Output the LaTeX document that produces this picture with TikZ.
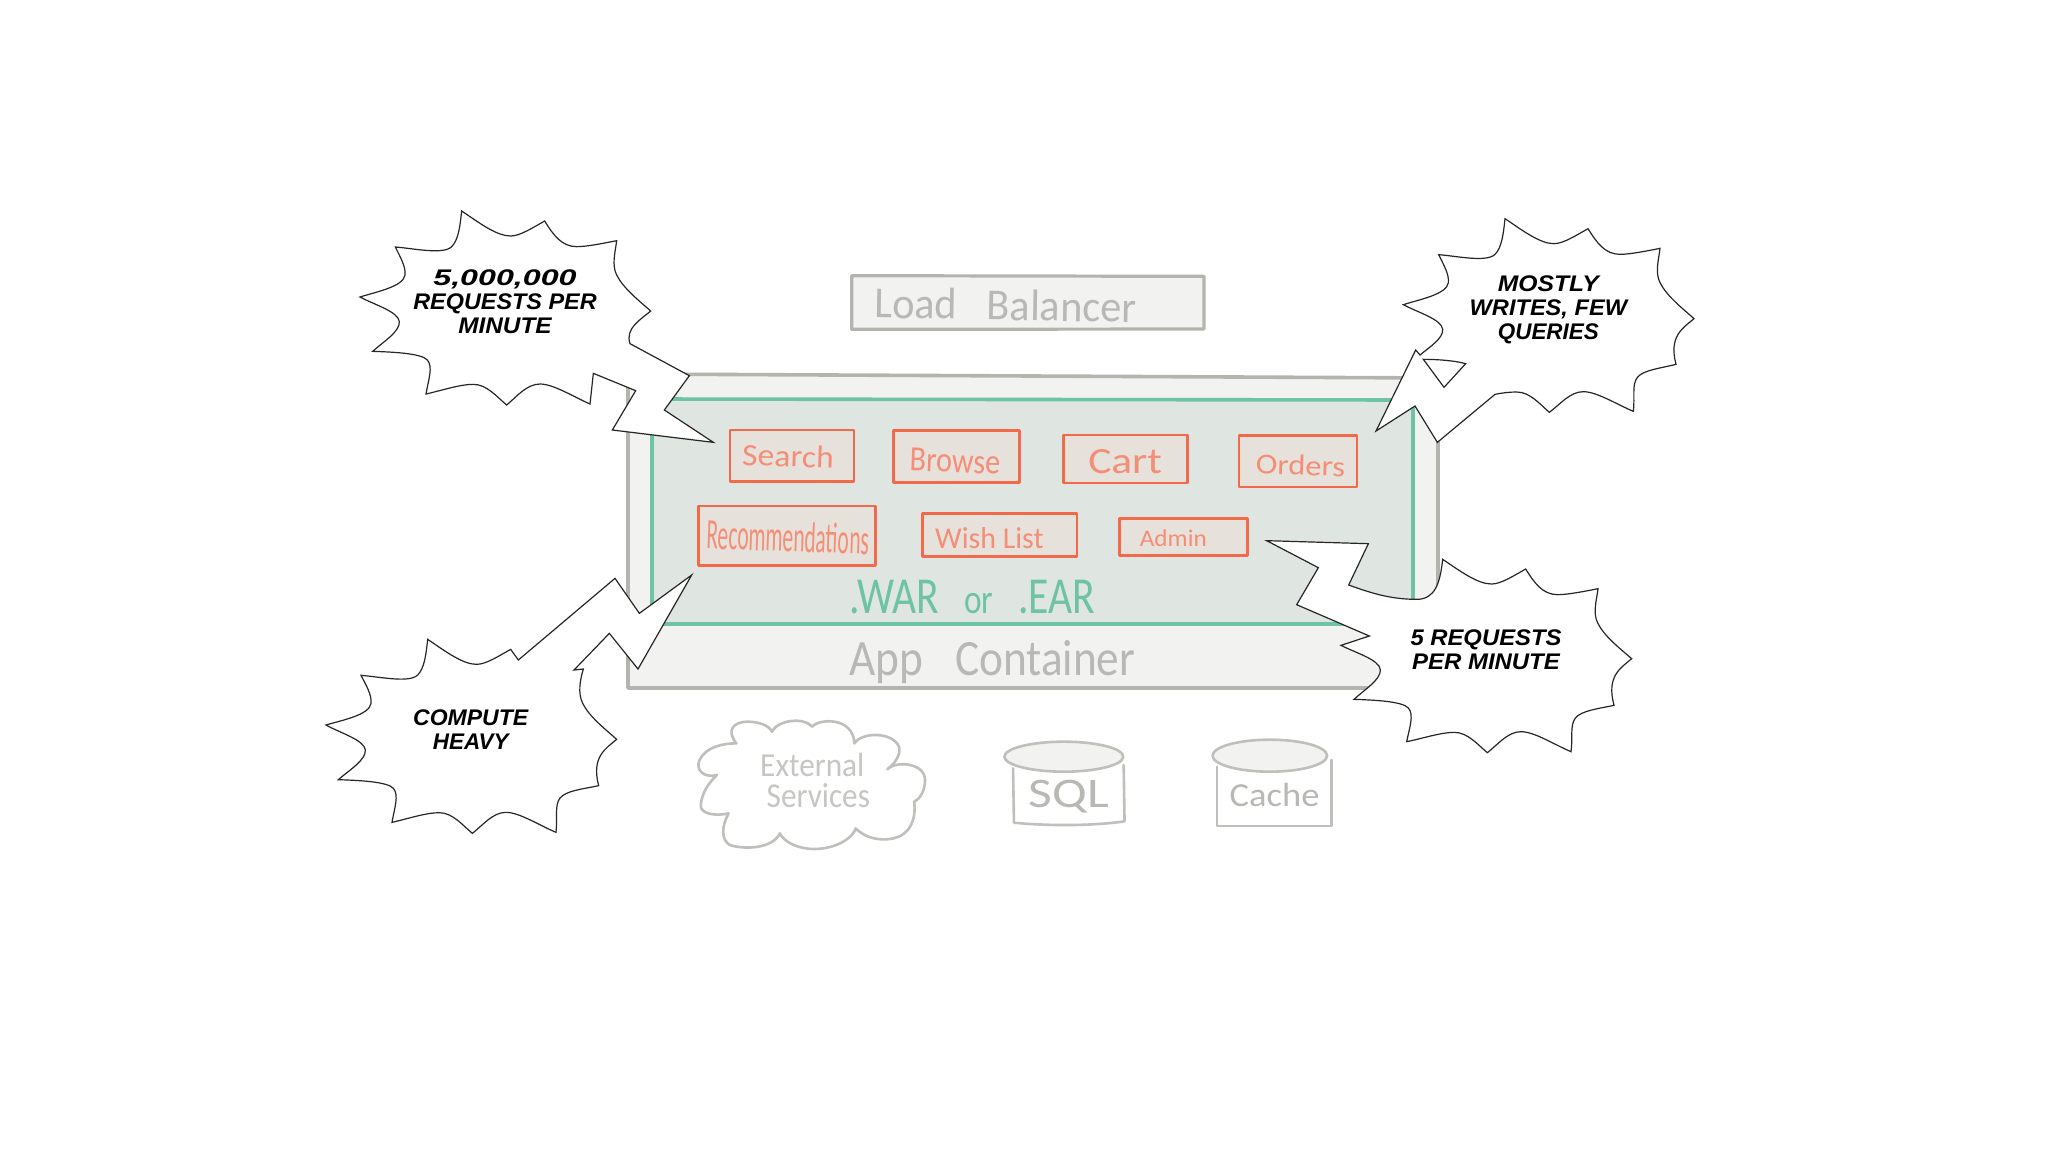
\documentclass[tikz,border=0pt]{standalone}
\usepackage{fontspec}
\setmainfont{Carlito}
\newfontfamily\comicfont{Liberation Sans}
\newcommand{\hx}{0.166667}
\newcommand{\hand}[3]{\resizebox{\hx\dimexpr#1pt\relax}{\dimexpr#2pt/6\relax}{#3}}
% one line of a shout, stretched to a width given in third-of-a-pixel units, height kept
\newsavebox{\linebox}
\newcommand{\fit}[2]{\sbox{\linebox}{#2}\resizebox*{\dimexpr#1pt/6\relax}{\dimexpr\ht\linebox+\dp\linebox\relax}{\usebox{\linebox}}}
\definecolor{frame}{HTML}{B4B4AF}
\definecolor{panel}{HTML}{F2F2F0}
\definecolor{sage}{HTML}{DFE6E1}
\definecolor{mint}{HTML}{6FC3A5}
\definecolor{coral}{HTML}{F3694A}
\definecolor{corald}{HTML}{F58E76}
\definecolor{blush}{HTML}{E6E1DA}
\definecolor{inkgrey}{HTML}{B8B8B4}
\tikzset{
  zoomed/.style={x=0.166667pt,y=-0.166667pt},
  framebox/.style={draw=frame,fill=panel,line width=1.8pt,line join=round},
  greenbox/.style={draw=mint,fill=sage,line width=1.8pt,line join=round},
  svc/.style={draw=coral,fill=blush,line width=1.25pt,line join=round},
  svctext/.style={text=corald,inner sep=0pt},
  greytext/.style={text=inkgrey,inner sep=0pt},
  mint text/.style={text=mint,inner sep=0pt},
  sketch/.style={draw=frame!85,line width=1.3pt,line join=round,line cap=round},
  burst/.style={draw=black!85,fill=white,line width=0.6pt,line join=miter,miter limit=10},
  shout/.style={text=black,align=center,inner sep=0pt,font=\comicfont\bfseries\itshape\fontsize{11.3}{12}\selectfont}
}
\begin{document}
\begin{tikzpicture}[x=0.5pt,y=-0.5pt]
\useasboundingbox (0,0) rectangle (2048,1152);
\fill[white] (0,0) rectangle (2048,1152);

% load balancer
\begin{scope}[shift={(840,260)},zoomed]
\draw[framebox,line width=1.6pt] (35,47) -- (1092,49) -- (1092,207) -- (35,208) -- cycle;
\node[greytext,rotate=-1] (lb) at (497,135) {\hand{785}{92}{Load\hspace{.7em}Balancer}};
\end{scope}

% app container and war
\draw[framebox] (628,374) -- (1438,378) -- (1438,688) -- (628,688) -- cycle;
\draw[greenbox] (652,399) -- (1413,400) -- (1413,624) -- (652,624) -- cycle;

\begin{scope}[shift={(680,420)},x=0.22321pt,y=-0.166667pt]
\renewcommand{\hx}{0.22321}
\draw[svc] (112,30) rectangle (390,185);
\draw[svc] (478,32) rectangle (760,188);
\draw[svc] (859,45) rectangle (1137,189);
\draw[svc] (1252,47) rectangle (1517,201);
\draw[svc] (41,258) rectangle (438,437);
\draw[svc] (543,280) rectangle (889,410);
\draw[svc] (984,295) rectangle (1271,406);
\node[svctext,rotate=-2] (search) at (242,108) {\hand{205}{65}{Search}};
\node[svctext,rotate=-2] (browse) at (616,124) {\hand{203}{68}{Browse}};
\node[svctext] (cart) at (997,124) {\hand{165}{72}{Cart}};
\node[svctext,rotate=-2] (orders) at (1390,135) {\hand{200}{60}{Orders}};
\node[svctext,rotate=-2] (recs) at (242,350) {\hand{365}{90}{Recommendations}};
\node[svctext] (wish) at (693,353) {\hand{243}{63}{Wish List}};
\node[svctext] (admin) at (1105,355) {\hand{150}{50}{Admin}};
\node[mint text] (war) at (655,531) {\hand{550}{100}{.WAR\hspace{.6em}{\footnotesize or}\hspace{.6em}.EAR}};
\node[greytext] (app) at (700,727) {\hand{640}{105}{App\hspace{.7em}Container}};
\end{scope}

% cloud and stores
\begin{scope}[shift={(680,700)},x=0.21684pt,y=-0.166667pt]
\renewcommand{\hx}{0.21684}
\draw[sketch,fill=white] (130,130) .. controls (105,90) and (125,65) .. (155,65) .. controls (180,65) and (205,75) .. (212,95) .. controls (225,60) and (285,50) .. (305,80) .. controls (320,55) and (400,50) .. (402,130) .. controls (420,95) and (490,95) .. (505,140) .. controls (510,165) and (495,190) .. (478,208) .. controls (500,180) and (565,190) .. (565,240) .. controls (565,270) and (555,295) .. (540,305) .. controls (545,360) and (530,415) .. (475,418) .. controls (445,420) and (420,405) .. (405,385) .. controls (395,425) and (340,455) .. (290,445) .. controls (265,440) and (240,425) .. (230,400) .. controls (215,445) and (150,450) .. (115,435) .. controls (95,420) and (95,380) .. (112,340) .. controls (80,350) and (45,340) .. (48,315) .. controls (50,280) and (65,250) .. (85,225) .. controls (55,235) and (35,210) .. (45,180) .. controls (60,140) and (100,130) .. (130,130) -- cycle;
\node[greytext,text=inkgrey!80] (ext) at (305,195) {\hand{240}{70}{External}};
\node[greytext,text=inkgrey!80] (svcs) at (319,286) {\hand{238}{72}{Services}};
\draw[sketch] (768,205) -- (770,368) .. controls (850,378) and (950,378) .. (1025,364) -- (1023,195);
\draw[sketch,fill=panel] (885,170) ellipse [x radius=137,y radius=45];
\node[greytext] (sql) at (897,289) {\hand{185}{82}{SQL}};
\draw[sketch] (1238,200) -- (1238,378) -- (1502,378) -- (1502,180);
\draw[sketch,fill=panel] (1360,167) ellipse [x radius=132,y radius=48];
\node[greytext] (cache) at (1371,285) {\hand{207}{70}{Cache}};
\end{scope}

% burst top left
\begin{scope}[shift={(320,190)},zoomed]
\draw[burst] (425,63) .. controls (480,100) and (530,138) .. (572,138) .. controls (600,138) and (640,112) .. (674,93)
.. controls (700,135) and (725,170) .. (770,170) .. controls (800,170) and (850,160) .. (890,152)
.. controls (885,190) and (875,225) .. (890,255) .. controls (910,295) and (955,330) .. (992,363)
.. controls (960,390) and (915,415) .. (930,461)
-- (1108,557) -- (1033,660) -- (1180,757) -- (877,720) -- (947,602) -- (820,550) -- (810,642)
.. controls (760,620) and (700,582) .. (660,582) .. controls (620,582) and (590,620) .. (560,645)
.. controls (530,620) and (500,583) .. (460,583) .. controls (420,583) and (370,600) .. (318,612)
.. controls (325,570) and (340,530) .. (322,510) .. controls (305,490) and (220,486) .. (158,484)
.. controls (190,455) and (240,425) .. (238,395) .. controls (235,365) and (165,345) .. (120,321)
.. controls (170,305) and (250,290) .. (255,255) .. controls (258,230) and (240,200) .. (226,171)
.. controls (280,175) and (370,195) .. (395,170) .. controls (415,150) and (420,110) .. (425,63) -- cycle;
\node[shout] (b1) at (555,335) {\fit{430}{5,000,000}\\\fit{550}{REQUESTS PER}\\\fit{280}{MINUTE}};
\end{scope}

% burst top right
\begin{scope}[shift={(1260,200)},zoomed]
\draw[burst] (735,56) .. controls (790,93) and (840,131) .. (882,131) .. controls (910,131) and (950,105) .. (984,86)
.. controls (1010,128) and (1035,163) .. (1080,163) .. controls (1110,163) and (1160,153) .. (1200,145)
.. controls (1195,183) and (1185,218) .. (1200,248) .. controls (1220,288) and (1265,323) .. (1302,356)
.. controls (1270,383) and (1225,408) .. (1248,493)
.. controls (1200,505) and (1150,510) .. (1132,532) .. controls (1115,555) and (1125,590) .. (1120,634)
.. controls (1070,613) and (1010,575) .. (970,575) .. controls (930,575) and (900,613) .. (868,637)
.. controls (840,613) and (810,576) .. (770,576) .. controls (750,576) and (730,578) .. (705,583)
-- (532,727) -- (465,618) -- (348,693) -- (467,450) -- (480,465)
.. controls (510,440) and (550,415) .. (548,388) .. controls (545,358) and (475,338) .. (430,314)
.. controls (480,298) and (560,283) .. (565,248) .. controls (568,223) and (550,193) .. (536,164)
.. controls (590,168) and (680,188) .. (705,163) .. controls (725,143) and (730,103) .. (735,56) -- cycle;
\draw[burst,fill=none] (490,478) .. controls (535,478) and (585,482) .. (617,491) -- (552,562) -- cycle;
\node[shout] (b2) at (865,328) {\fit{303}{MOSTLY}\\\fit{472}{WRITES, FEW}\\\fit{303}{QUERIES}};
\end{scope}

% burst bottom right
\begin{scope}[shift={(1240,520)},zoomed]
\draw[burst] (608,118) .. controls (663,155) and (713,192) .. (755,192) .. controls (783,192) and (823,166) .. (857,147)
.. controls (883,189) and (908,224) .. (953,224) .. controls (983,224) and (1034,214) .. (1074,206)
.. controls (1069,244) and (1058,279) .. (1073,309) .. controls (1093,349) and (1138,384) .. (1175,416)
.. controls (1143,443) and (1098,468) .. (1122,556)
.. controls (1074,566) and (1024,572) .. (1006,594) .. controls (989,617) and (999,652) .. (993,695)
.. controls (943,674) and (883,635) .. (843,635) .. controls (803,635) and (773,674) .. (742,698)
.. controls (713,674) and (683,637) .. (643,637) .. controls (603,637) and (553,654) .. (500,665)
.. controls (508,624) and (523,584) .. (505,564) .. controls (488,544) and (403,540) .. (342,538)
.. controls (373,509) and (423,479) .. (421,449) .. controls (418,419) and (348,399) .. (303,376)
-- (388,348) -- (170,254) -- (235,143) -- (80,62) -- (385,71) -- (326,195)
.. controls (390,218) and (450,238) .. (530,238) .. controls (585,238) and (600,190) .. (608,118) -- cycle;
\node[shout] (b3) at (738,388) {\fit{453}{5 REQUESTS}\\\fit{443}{PER MINUTE}};
\end{scope}

% burst bottom left
\begin{scope}[shift={(310,560)},zoomed]
\draw[burst] (353,238) .. controls (408,275) and (458,313) .. (500,313) .. controls (528,313) and (568,287) .. (602,268)
-- (625,300) -- (915,55) -- (988,160) -- (1145,45) -- (984,327) -- (898,220) -- (792,330) -- (820,327)
.. controls (810,360) and (803,400) .. (818,430) .. controls (838,470) and (883,505) .. (920,538)
.. controls (888,565) and (843,590) .. (866,677)
.. controls (818,687) and (768,692) .. (750,714) .. controls (733,737) and (743,772) .. (738,817)
.. controls (688,796) and (628,757) .. (588,757) .. controls (548,757) and (518,796) .. (487,820)
.. controls (458,796) and (428,758) .. (388,758) .. controls (348,758) and (298,775) .. (246,787)
.. controls (253,745) and (268,705) .. (250,685) .. controls (233,665) and (148,661) .. (85,659)
.. controls (118,630) and (168,600) .. (166,570) .. controls (163,540) and (93,520) .. (48,495)
.. controls (98,480) and (178,465) .. (183,430) .. controls (186,405) and (168,375) .. (153,346)
.. controls (208,350) and (298,370) .. (323,345) .. controls (343,325) and (348,285) .. (353,238) -- cycle;
\node[shout] (b4) at (482,510) {\fit{345}{COMPUTE}\\\fit{227}{HEAVY}};
\end{scope}
\end{tikzpicture}
\end{document}
